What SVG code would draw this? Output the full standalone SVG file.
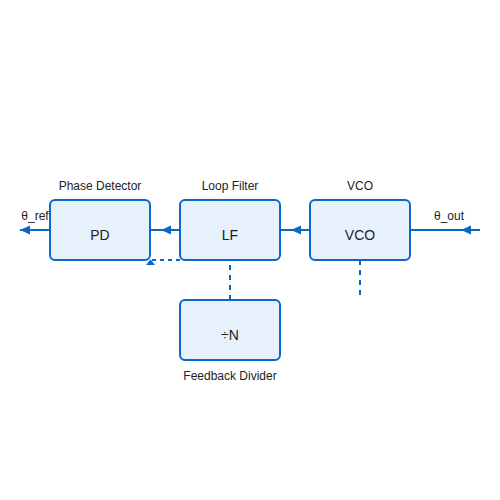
<svg xmlns="http://www.w3.org/2000/svg" width="500" height="500" viewBox="0 0 500 500">
<style>
.box{fill:#e6f1fc;stroke:#0a66c8;stroke-width:2}
.lbl{font-family:"Liberation Sans",Arial,sans-serif;font-size:12px;fill:#222;text-anchor:middle}
.name{font-family:"Liberation Sans",Arial,sans-serif;font-size:14px;fill:#222;text-anchor:middle}
.ln{stroke:#0a66c8;stroke-width:2;fill:none}
.dh{stroke:#0a66c8;stroke-width:2;fill:none;stroke-dasharray:4,4}
.dv{stroke:#0a66c8;stroke-width:2;fill:none;stroke-dasharray:5,5}
.ah{fill:#0a66c8}
</style>
<rect width="500" height="500" fill="#fff"/>
<g id="connectors">
<line class="ln" x1="50" y1="230" x2="20" y2="230"/>
<polygon class="ah" points="20,230 30,225.5 30,234.5"/>
<line class="ln" x1="180" y1="230" x2="150" y2="230"/>
<polygon class="ah" points="161,230 171,225.5 171,234.5"/>
<line class="ln" x1="310" y1="230" x2="280" y2="230"/>
<polygon class="ah" points="291,230 301,225.5 301,234.5"/>
<line class="ln" x1="480" y1="230" x2="410" y2="230"/>
<polygon class="ah" points="461,230 471,225.5 471,234.5"/>
<line class="dh" x1="180" y1="260" x2="150" y2="260"/>
<polygon class="ah" points="150.5,259.5 146,265 155,265"/>
<line class="dv" x1="230" y1="265" x2="230" y2="300"/>
<line class="dv" x1="360" y1="260" x2="360" y2="295"/>
<text class="lbl" x="35" y="220">θ_ref</text>
<text class="lbl" x="449" y="220">θ_out</text>
</g>
<g id="pd">
<rect class="box" x="50" y="200" width="100" height="60" rx="5"/>
<text class="lbl" x="100" y="190">Phase Detector</text>
<text class="name" x="100" y="240">PD</text>
</g>
<g id="lf">
<rect class="box" x="180" y="200" width="100" height="60" rx="5"/>
<text class="lbl" x="230" y="190">Loop Filter</text>
<text class="name" x="230" y="240">LF</text>
</g>
<g id="vco">
<rect class="box" x="310" y="200" width="100" height="60" rx="5"/>
<text class="lbl" x="360" y="190">VCO</text>
<text class="name" x="360" y="240">VCO</text>
</g>
<g id="div">
<rect class="box" x="180" y="300" width="100" height="60" rx="5"/>
<text class="name" x="230" y="340">÷N</text>
<text class="lbl" x="230" y="380">Feedback Divider</text>
</g>
</svg>
